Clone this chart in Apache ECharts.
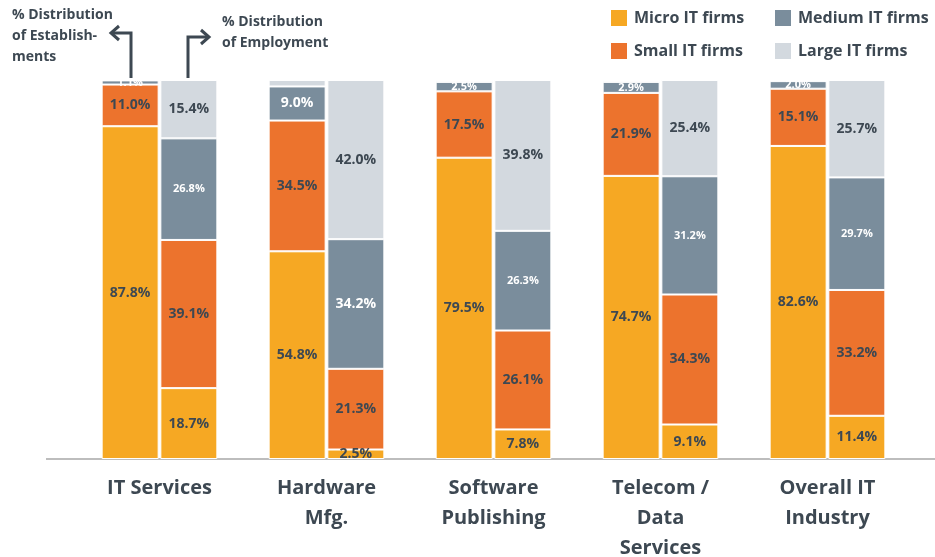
<!DOCTYPE html>
<html>
<head>
<meta charset="utf-8">
<script src="https://cdn.jsdelivr.net/npm/echarts@6/dist/echarts.min.js"></script>
<style>
  html, body { margin: 0; padding: 0; background: #fff; }
  #chart { width: 935px; height: 557px; }
</style>
</head>
<body>
<div id="chart"></div>
<script>
// categories
var sectors = ['IT Services', 'Hardware\nMfg.', 'Software\nPublishing', 'Telecom /\nData\nServices', 'Overall IT\nIndustry']

// % distribution of establishments
var estMicro = [87.8, 54.8, 79.5, 74.7, 82.6]
var estSmall = [11.0, 34.5, 17.5, 21.9, 15.1]
var estMedium = [1.1, 9.0, 2.5, 2.9, 2.0]
var estLarge = [0.1, 1.7, 0.5, 0.5, 0.3]

// % distribution of employment
var empMicro = [18.7, 2.5, 7.8, 9.1, 11.4]
var empSmall = [39.1, 21.3, 26.1, 34.3, 33.2]
var empMedium = [26.8, 34.2, 26.3, 31.2, 29.7]
var empLarge = [15.4, 42.0, 39.8, 25.4, 25.7]

var dark = '#3d4852'
var colors = {
  micro: '#F6A823',
  small: '#EC732D',
  medium: '#7A8D9C',
  large: '#D3D9DF'
}

var chart = echarts.init(document.getElementById('chart'))

function pct (p) { return p.value.toFixed(1) + '%' }

function makeSeries (name, stack, data, color, label) {
  return {
    name: name,
    type: 'bar',
    stack: stack,
    data: data,
    barWidth: 57,
    barGap: '3%',
    itemStyle: { color: color, borderColor: '#fff', borderWidth: 1 },
    label: Object.assign({
      show: true,
      position: 'inside',
      formatter: pct,
      color: dark,
      fontFamily: 'Open Sans',
      fontWeight: 'bold',
      fontSize: 14
    }, label || {}),
    emphasis: { disabled: true }
  }
}

var smallWhite = { color: '#fff', fontSize: 11 }
var bigWhite = { color: '#fff', fontSize: 14 }

// Hardware medium labels are drawn larger in the source
var estMediumData = estMedium.map(function (v, i) {
  return i === 1 ? { value: v, label: bigWhite } : v
})
var empMediumData = empMedium.map(function (v, i) {
  return i === 1 ? { value: v, label: bigWhite } : v
})

var legendText = {
  color: dark,
  fontFamily: 'Open Sans',
  fontWeight: 'bold',
  fontSize: 16,
  padding: [0, 0, 0, 1]
}

chart.setOption({
  animation: false,
  grid: { left: 76, right: 24, top: 80, bottom: 98, outerBoundsMode: 'none' },
  legend: [{
    data: ['Micro IT firms', 'Small IT firms'],
    orient: 'vertical',
    left: 604,
    top: 3,
    icon: 'rect',
    itemWidth: 18,
    itemHeight: 18,
    itemGap: 13,
    textStyle: legendText,
    selectedMode: false
  }, {
    data: ['Medium IT firms', 'Large IT firms'],
    orient: 'vertical',
    left: 768,
    top: 3,
    icon: 'rect',
    itemWidth: 18,
    itemHeight: 18,
    itemGap: 13,
    textStyle: legendText,
    selectedMode: false
  }],
  xAxis: {
    type: 'category',
    data: sectors,
    axisLine: { show: false },
    axisTick: { show: false },
    axisLabel: {
      color: dark,
      fontFamily: 'Open Sans',
      fontWeight: 'bold',
      fontSize: 20,
      lineHeight: 30,
      margin: 14,
      interval: 0
    }
  },
  yAxis: {
    type: 'value',
    min: 0,
    max: 100,
    show: false
  },
  graphic: [
    // baseline
    { type: 'line', shape: { x1: 46, y1: 459, x2: 935, y2: 459 }, style: { stroke: '#bdbdbd', lineWidth: 2 } },
    // annotations
    { type: 'text', left: 12, top: 5, style: { text: '% Distribution\nof Establish-\nments', fill: dark, font: 'bold 14px "Open Sans"', lineHeight: 21 } },
    { type: 'text', left: 222, top: 12, style: { text: '% Distribution\nof Employment', fill: dark, font: 'bold 14px "Open Sans"', lineHeight: 21 } },
    { type: 'polyline', shape: { points: [[131, 78], [131, 33], [111, 33]] }, style: { stroke: dark, lineWidth: 3, fill: null } },
    { type: 'polyline', shape: { points: [[119, 26], [111, 33], [119, 40]] }, style: { stroke: dark, lineWidth: 3, fill: null } },
    { type: 'polyline', shape: { points: [[188, 78], [188, 37], [209, 37]] }, style: { stroke: dark, lineWidth: 3, fill: null } },
    { type: 'polyline', shape: { points: [[201, 30], [209, 37], [201, 44]] }, style: { stroke: dark, lineWidth: 3, fill: null } }
  ],
  series: [
    makeSeries('Micro IT firms', 'est', estMicro, colors.micro),
    makeSeries('Small IT firms', 'est', estSmall, colors.small),
    makeSeries('Medium IT firms', 'est', estMediumData, colors.medium, smallWhite),
    makeSeries('Large IT firms', 'est', estLarge, colors.large, { show: false }),
    makeSeries('Micro IT firms', 'emp', empMicro, colors.micro),
    makeSeries('Small IT firms', 'emp', empSmall, colors.small),
    makeSeries('Medium IT firms', 'emp', empMediumData, colors.medium, smallWhite),
    makeSeries('Large IT firms', 'emp', empLarge, colors.large)
  ]
})
</script>
</body>
</html>
